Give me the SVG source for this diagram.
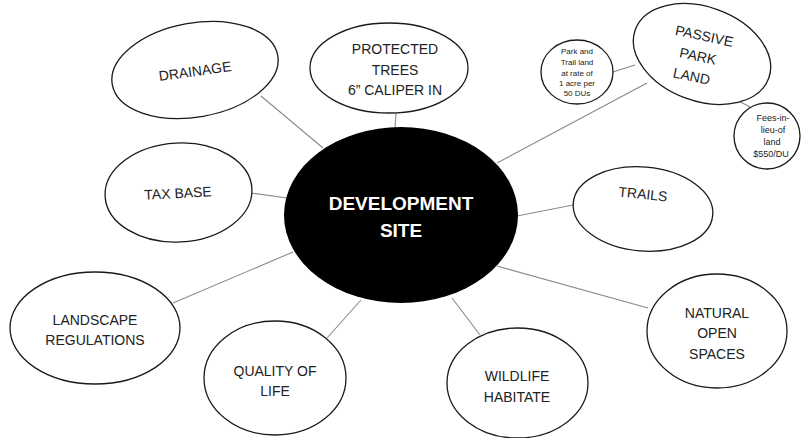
<svg xmlns="http://www.w3.org/2000/svg" width="804" height="438" viewBox="0 0 804 438">
<style>
.n{fill:#fff;stroke:#1a1a1a;stroke-width:1.3}
.c{stroke:#8a8a8a;stroke-width:1.1;fill:none}
text{font-family:"Liberation Sans",Arial,sans-serif;font-size:14px;fill:#222;text-anchor:middle}
.s{font-size:8px}
.f{font-size:9px}
.w{fill:#fff;font-weight:bold;font-size:19px}
</style>
<rect width="804" height="438" fill="#fff"/>
<g id="connectors">
<line class="c" x1="261" y1="96" x2="323" y2="148"/>
<line class="c" x1="396" y1="113" x2="395" y2="128"/>
<line class="c" x1="251" y1="193" x2="287" y2="198"/>
<line class="c" x1="173" y1="303" x2="293" y2="252"/>
<line class="c" x1="327" y1="338" x2="361" y2="300"/>
<line class="c" x1="452" y1="298" x2="480" y2="335"/>
<line class="c" x1="497" y1="266" x2="648" y2="308"/>
<line class="c" x1="517" y1="216" x2="573" y2="205"/>
<line class="c" x1="497" y1="163" x2="647" y2="83"/>
<line class="c" x1="613" y1="72" x2="635" y2="65"/>
<line class="c" x1="737" y1="100" x2="750" y2="107"/>
</g>
<g id="development-site">
<ellipse cx="401" cy="215" rx="117" ry="88" fill="#000"/>
<text class="w" x="401" y="210">DEVELOPMENT</text>
<text class="w" x="401" y="237">SITE</text>
</g>
<g id="drainage">
<ellipse class="n" cx="195" cy="70" rx="84" ry="47" transform="rotate(-10 195 70)"/>
<text x="195" y="76" transform="rotate(-8 195 71)">DRAINAGE</text>
</g>
<g id="protected-trees">
<ellipse class="n" cx="389" cy="68" rx="79" ry="45"/>
<text x="395" y="54">PROTECTED</text>
<text x="395" y="75">TREES</text>
<text x="395" y="95">6” CALIPER IN</text>
</g>
<g id="tax-base">
<ellipse class="n" cx="178.5" cy="192.5" rx="73.5" ry="49.5" transform="rotate(-3 178.5 192.5)"/>
<text x="178" y="198" transform="rotate(-3 178 193)">TAX BASE</text>
</g>
<g id="landscape-regulations">
<ellipse class="n" cx="95" cy="328" rx="85" ry="56"/>
<text x="95" y="325">LANDSCAPE</text>
<text x="95" y="345">REGULATIONS</text>
</g>
<g id="quality-of-life">
<ellipse class="n" cx="275" cy="378" rx="71" ry="57"/>
<text x="275" y="376">QUALITY OF</text>
<text x="275" y="396">LIFE</text>
</g>
<g id="wildlife-habitate">
<ellipse class="n" cx="517.5" cy="383" rx="70.5" ry="55"/>
<text x="517" y="381">WILDLIFE</text>
<text x="517" y="402">HABITATE</text>
</g>
<g id="natural-open-spaces">
<ellipse class="n" cx="717" cy="331" rx="70" ry="57"/>
<text x="717" y="318">NATURAL</text>
<text x="717" y="338">OPEN</text>
<text x="717" y="359">SPACES</text>
</g>
<g id="trails">
<ellipse class="n" cx="643" cy="209" rx="70" ry="42" transform="rotate(5 643 209)"/>
<text x="643" y="199" transform="rotate(6 643 194)">TRAILS</text>
</g>
<g id="passive-park-land">
<ellipse class="n" cx="702" cy="54" rx="71" ry="47" transform="rotate(20 702 54)"/>
<g transform="rotate(12 698 56)">
<text x="700" y="40">PASSIVE</text>
<text x="698" y="61">PARK</text>
<text x="696" y="82">LAND</text>
</g>
</g>
<g id="park-trail-land">
<ellipse class="n" cx="577" cy="72" rx="36" ry="32"/>
<text class="s" x="577" y="54">Park and</text>
<text class="s" x="577" y="65">Trail land</text>
<text class="s" x="577" y="76">at rate of</text>
<text class="s" x="577" y="86">1 acre per</text>
<text class="s" x="577" y="96">50 DUs</text>
</g>
<g id="fees-in-lieu">
<ellipse class="n" cx="767" cy="136" rx="33" ry="33"/>
<text class="f" x="773" y="121">Fees-in-</text>
<text class="f" x="773" y="133">lieu-of</text>
<text class="f" x="772" y="145">land</text>
<text class="f" x="771" y="157">$550/DU</text>
</g>
</svg>
